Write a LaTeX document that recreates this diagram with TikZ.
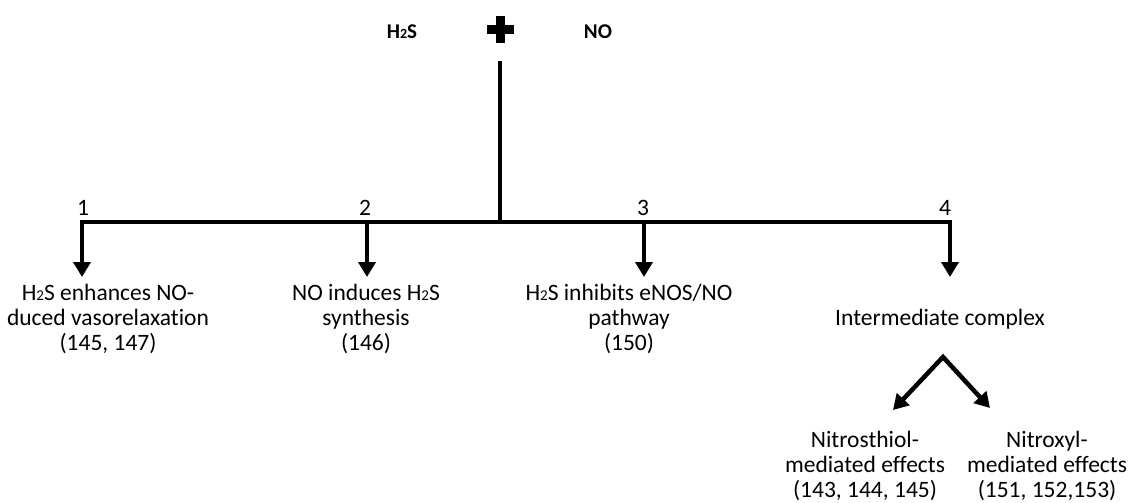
\documentclass[tikz,border=0pt]{standalone}
\usepackage{fontspec}
\setmainfont{Carlito}[Ligatures=NoCommon]
\usetikzlibrary{arrows.meta}
\newcommand\Hts[1]{H{\fontsize{#1}{#1}\selectfont 2}S}
\begin{document}
\begin{tikzpicture}[x=1pt,y=-1pt,
  txt/.style={align=center, inner sep=0pt, font=\fontsize{23.5}{25}\selectfont, anchor=base},
  num/.style={inner sep=0pt, font=\fontsize{23.5}{25}\selectfont, anchor=base},
  topl/.style={inner sep=0pt, font=\bfseries\fontsize{21}{24}\selectfont, anchor=base},
  wire/.style={line width=4.5pt, line join=miter},
  tip/.tip={Triangle[width=17pt,length=15pt]},
  arr/.style={wire, -tip},
  arrs/.style={wire, tip-tip},
]
\useasboundingbox (0,0) rectangle (1128,503);
% top
\node[topl] (hs) at (402,39) {\Hts{14}};
\node[topl] (no) at (598,39) {NO};
\fill (486.5,25.5) rectangle (513.5,34.5);
\fill (495.5,16.5) rectangle (504.5,43.5);
\coordinate (stem) at (500,61);
% junctions
\coordinate (j0) at (500,222);
\coordinate (j1) at (82,222);
\coordinate (j2) at (367,222);
\coordinate (j3) at (644,222);
\coordinate (j4) at (950,222);
\coordinate (a1) at (82,277);
\coordinate (a2) at (367,277);
\coordinate (a3) at (644,277);
\coordinate (a4) at (950,277);
% numbers
\node[num] (n1) at (83,215) {1};
\node[num] (n2) at (365,215) {2};
\node[num] (n3) at (643,215) {3};
\node[num] (n4) at (945,215) {4};
% texts
\node[txt] (t1) at (108,350) {\Hts{15} enhances NO-\\duced vasorelaxation\\(145, 147)};
\node[txt] (t2) at (366,350) {NO induces \Hts{15}\\synthesis\\(146)};
\node[txt] (t3) at (629,350) {\Hts{15} inhibits eNOS/NO\\pathway\\(150)};
\node[txt] (ic) at (940,325) {Intermediate complex};
\node[txt] (ns) at (865,497) {Nitrosthiol-\\mediated effects\\(143, 144, 145)};
\node[txt] (nx) at (1047,497) {Nitroxyl-\\mediated effects\\(151, 152,153)};
\coordinate (apex) at (943,357);
\coordinate (bl) at (893,410);
\coordinate (br) at (990,408);
% connectors
\draw[wire] (stem) -- (j0);
\draw[arrs] (a1) -- (j1) -- (j4) -- (a4);
\draw[arr] (j2) -- (a2);
\draw[arr] (j3) -- (a3);
\draw[arrs] (bl) -- (apex) -- (br);
\end{tikzpicture}
\end{document}
